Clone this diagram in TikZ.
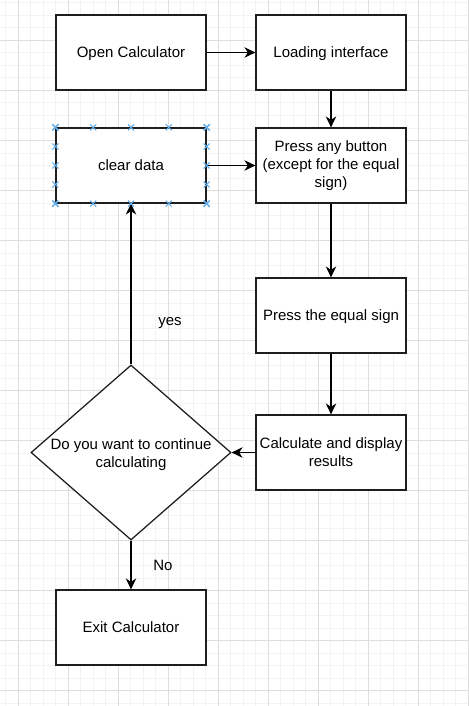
\documentclass[tikz,border=0pt]{standalone}
\usepackage{fontspec}
\setmainfont{Liberation Sans}
\usetikzlibrary{arrows.meta,shapes.geometric}
\definecolor{gridminor}{RGB}{243,243,243}
\definecolor{gridmajor}{RGB}{222,222,222}
\definecolor{selblue}{RGB}{100,175,235}
\definecolor{boxline}{RGB}{30,30,30}
\tikzset{
  stepbox/.style={draw=boxline, line width=1.25pt, fill=white, minimum width=150pt, minimum height=75pt, inner sep=0pt, align=center, font=\fontsize{15pt}{18pt}\selectfont},
  oneline/.style={text height=10.8pt, text depth=0pt},
  dia/.style={draw=boxline, line width=1.25pt, fill=white, diamond, minimum width=200pt, minimum height=175pt, inner sep=0pt},
  txt/.style={inner sep=0pt, align=center, font=\fontsize{15pt}{18pt}\selectfont},
  conn/.style={draw=black, line width=1.2pt, -{Stealth[length=11pt,width=10.5pt,inset=3.5pt]}},
  mk/.style={draw=selblue, line width=1.1pt}
}
\begin{document}
\begin{tikzpicture}[x=1pt,y=-1pt]
\useasboundingbox (0,0) rectangle (468,706);
\fill[white] (0,0) rectangle (468,706);
% grid
\foreach \i in {0,...,37} {
  \draw[gridminor, line width=1pt] (5.8+12.5*\i,0) -- (5.8+12.5*\i,706);
}
\foreach \i in {0,...,56} {
  \draw[gridminor, line width=1pt] (0,3+12.5*\i) -- (468,3+12.5*\i);
}
\foreach \i in {0,...,9} {
  \draw[gridmajor, line width=1pt] (18.3+50*\i,0) -- (18.3+50*\i,706);
}
\foreach \i in {-1,...,13} {
  \draw[gridmajor, line width=1pt] (0,40.5+50*\i) -- (468,40.5+50*\i);
}
% nodes
\node[stepbox, oneline] (open) at (131,52.5) {Open Calculator};
\node[stepbox, oneline] (load) at (331,52.5) {Loading interface};
\node[stepbox] (press) at (331,165.5) {Press any button\\(except for the equal\\sign)};
\node[stepbox, oneline] (clear) at (131,165.5) {clear data};
\node[stepbox, oneline] (equal) at (331,315.5) {Press the equal sign};
\node[stepbox] (calc) at (331,452.5) {Calculate and display\\results};
\node[dia] (q) at (131,452.5) {};
\node[txt] (qt) at (131,455) {Do you want to continue\\calculating};
\node[stepbox, oneline] (exit) at (131,627.5) {Exit Calculator};
% connectors
\draw[conn] (open) -- (load);
\draw[conn] (load) -- (press);
\draw[conn] (press) -- (equal);
\draw[conn] (equal) -- (calc);
\draw[conn] (calc) -- (q.east);
\draw[conn] (q.north) -- (clear.south);
\draw[conn] (q.south) -- (exit.north);
\draw[conn] (clear) -- (press);
% labels
\node[txt, text height=10.8pt, text depth=0pt] (yes) at (170,320) {yes};
\node[txt, text height=10.8pt, text depth=0pt] (no) at (163,565) {No};
% selection markers
\foreach \x in {0,0.25,0.5,0.75,1} {
  \path (clear.north west) -- (clear.north east) coordinate[pos=\x] (mt);
  \path (clear.south west) -- (clear.south east) coordinate[pos=\x] (mb);
  \path (clear.north west) -- (clear.south west) coordinate[pos=\x] (ml);
  \path (clear.north east) -- (clear.south east) coordinate[pos=\x] (mr);
  \foreach \c in {mt,mb,ml,mr} {
    \draw[mk] ([shift={(-3,-3)}]\c) -- ([shift={(3,3)}]\c);
    \draw[mk] ([shift={(-3,3)}]\c) -- ([shift={(3,-3)}]\c);
  }
}
\end{tikzpicture}
\end{document}
